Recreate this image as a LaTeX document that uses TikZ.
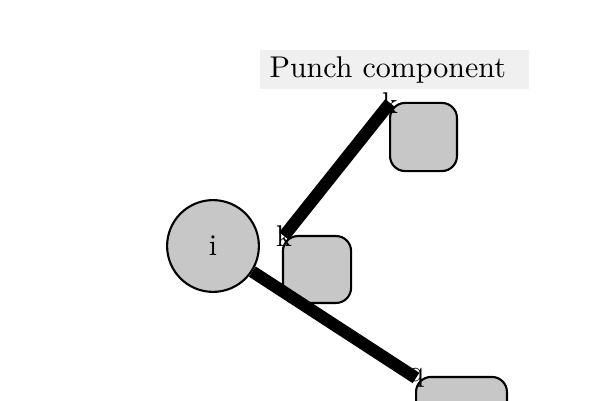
\documentclass[tikz,border=0pt]{standalone}
\begin{document}
\begin{tikzpicture}[x=0.3333pt,y=-0.3333pt,
  comp/.style={draw=black, line width=0.7pt, fill=black!22, rounded corners=5pt, inner sep=0pt},
  lbl/.style={inner sep=0.5pt, font=\normalsize},
  conn/.style={line width=4.1pt, line cap=butt}]
\useasboundingbox (0,0) rectangle (600,400);
% title
\fill[black!6] (260,50) rectangle (529,89);
\node[anchor=west, inner sep=0pt] (title) at (269,70) {Punch component};
% shapes
\node[comp, minimum width=22.3pt, minimum height=22.7pt] (b1) at (423.5,137) {};
\node[comp, minimum width=22.7pt, minimum height=22.3pt] (b2) at (317,269.5) {};
\node[comp, minimum width=30.3pt, minimum height=22.7pt] (b3) at (461.5,411) {};
\node[circle, draw=black, line width=0.7pt, fill=black!22, minimum size=30.6pt, inner sep=0pt] (i) at (213,246) {i};
% labels
\node[lbl] (k1) at (390,103) {k};
\node[lbl] (k2) at (284,236) {k};
\node[lbl] (q) at (416,378) {q};
% connectors
\draw[conn] (k2.center) -- (k1.center);
\draw[conn] (i) -- (q.center);
\end{tikzpicture}
\end{document}
